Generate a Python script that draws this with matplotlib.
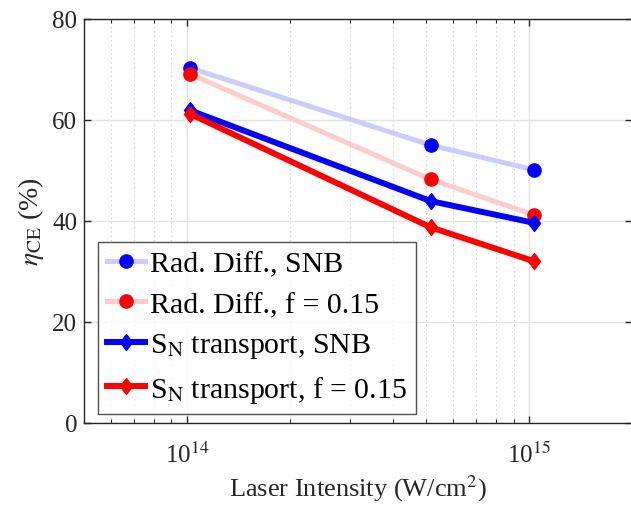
import matplotlib
matplotlib.use("Agg")
import matplotlib.pyplot as plt
from matplotlib.ticker import LogLocator, NullFormatter, FixedLocator, FixedFormatter

plt.rcParams['font.family'] = ['Liberation Serif', 'DejaVu Serif']
plt.rcParams['mathtext.fontset'] = 'stix'

intensity = [1.02e14, 5.15e14, 1.03e15]
rad_snb = [70.3, 55.0, 50.1]
rad_f015 = [69.1, 48.2, 41.2]
sn_snb = [61.9, 43.9, 39.6]
sn_f015 = [61.2, 38.7, 32.0]
labels = ["Rad. Diff., SNB", "Rad. Diff., f = 0.15",
          r"S$_{\rm N}$ transport, SNB", r"S$_{\rm N}$ transport, f = 0.15"]
xticks = [1e14, 1e15]
xticklabels = [r"10$^{14}$", r"10$^{15}$"]
yticks = [0, 20, 40, 60, 80]

diamond = [(0, 1), (0.75, 0), (0, -1), (-0.75, 0), (0, 1)]

fig = plt.figure(figsize=(6.31, 5.10), dpi=100)
ax = fig.add_axes([84/631, (510-423.5)/510, 1-84/631+0.002, (423.5-20)/510])

ax.plot(intensity, rad_snb, color=(0.8, 0.8, 1.0), lw=3.6, marker='o', ms=9.5,
        mfc='#0000ff', mec='#0000ff', label=labels[0], zorder=3)
ax.plot(intensity, rad_f015, color=(1.0, 0.8, 0.8), lw=3.6, marker='o', ms=9.5,
        mfc='#ff0000', mec='#ff0000', label=labels[1], zorder=3)
ax.plot(intensity, sn_snb, color='#0000ff', lw=4.3, marker=diamond, ms=11.5,
        mfc='#0000ff', mec='#0000ff', label=labels[2], zorder=4)
ax.plot(intensity, sn_f015, color='#ff0000', lw=4.3, marker=diamond, ms=11.5,
        mfc='#ff0000', mec='#ff0000', label=labels[3], zorder=4)

ax.set_xscale('log')
ax.set_xlim(5e13, 2e15)
ax.set_ylim(0, 80)
ax.set_yticks(yticks)
ax.xaxis.set_major_locator(FixedLocator(xticks))
ax.xaxis.set_major_formatter(FixedFormatter(xticklabels))
ax.xaxis.set_minor_locator(LogLocator(base=10, subs=range(2, 10)))
ax.xaxis.set_minor_formatter(NullFormatter())

ax.grid(True, which='major', color='#e3e3e3', lw=1.0, ls='-')
ax.grid(True, which='minor', axis='x', color='#c8c8c8', lw=0.8, ls=(0, (1, 3)))
ax.set_axisbelow(True)

ax.tick_params(which='both', direction='in', top=True, right=True,
               labelsize=18, colors='#262626')
ax.tick_params(axis='x', which='major', pad=14)
ax.tick_params(axis='y', which='major', pad=5)
ax.tick_params(which='major', length=5, width=1)
ax.tick_params(which='minor', length=3, width=0.8)
for s in ax.spines.values():
    s.set_color('#262626')
    s.set_linewidth(1.0)

ax.set_xlabel(r"Laser Intensity (W/cm$^2$)", fontsize=19, color='#262626', labelpad=4)
ax.set_ylabel(r"$\eta_{\rm CE}$ (%)", fontsize=20, color='#262626', labelpad=4)

leg = ax.legend(loc='upper left', bbox_to_anchor=(97.7/631, 1-242.7/510),
                bbox_transform=fig.transFigure, borderaxespad=0,
                fontsize=21.5, frameon=True, fancybox=False, handlelength=1.3,
                handletextpad=0.16, borderpad=0.3, labelspacing=0.45)
leg.get_frame().set_edgecolor('#262626')
leg.get_frame().set_linewidth(1.0)
for t in leg.get_texts():
    t.set_color('black')

fig.savefig('out.png', dpi=100)
